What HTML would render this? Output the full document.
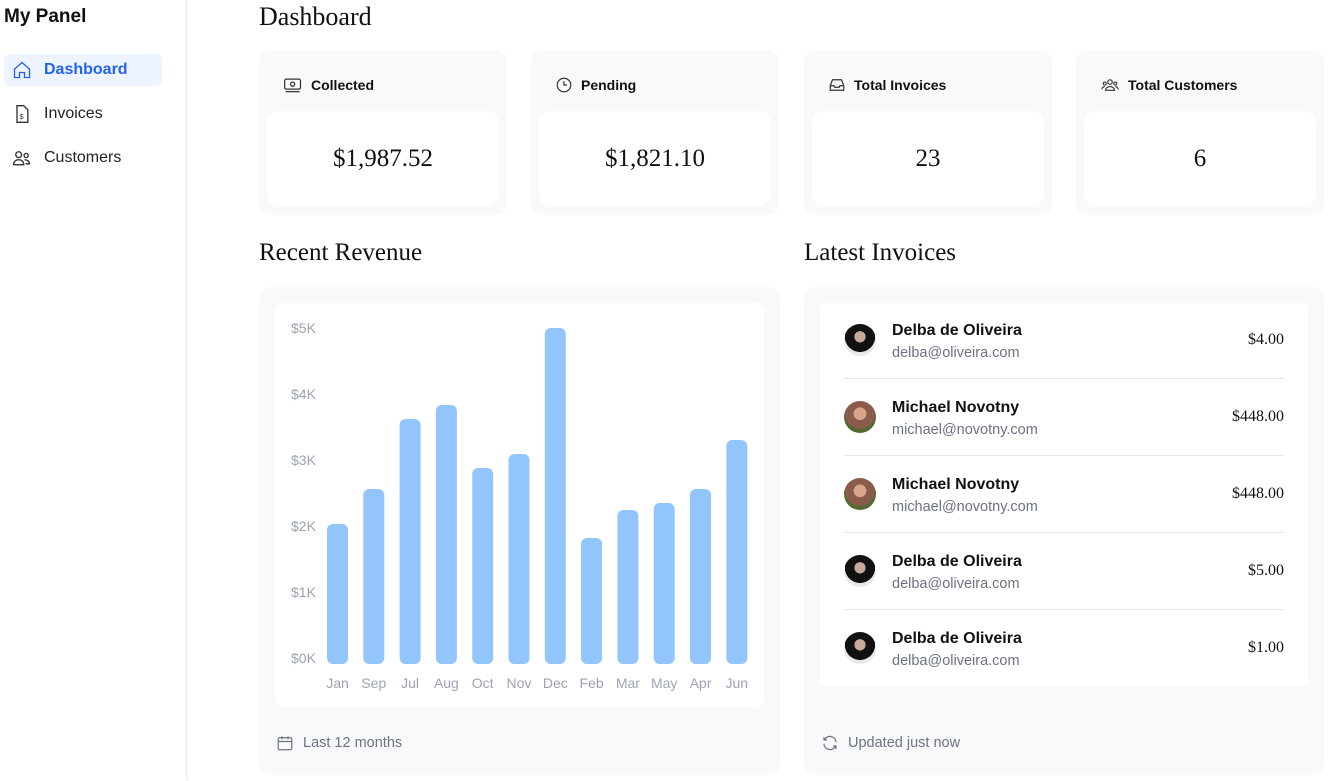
<!DOCTYPE html>
<html><head><meta charset="utf-8"><style>
*{box-sizing:border-box;margin:0;padding:0}
body{width:1330px;height:781px;overflow:hidden;background:#fff;font-family:"Liberation Sans",sans-serif;position:relative;color:#111}
.abs{position:absolute}
.side{left:0;top:0;width:187px;height:781px;border-right:1px solid #ececec;box-shadow:1px 0 3px rgba(0,0,0,.04)}
.nav{left:4px;width:158px;height:32px;border-radius:6px;display:flex;align-items:center;padding-left:8px;font-size:16px;color:#222}
.nav svg{margin-right:12px}
.card{background:#f8f9fb;border-radius:12px;width:248px;height:165px;top:50px}
.card .hd{position:absolute;left:24px;top:26px;font-size:14px;font-weight:bold;display:flex;align-items:center;color:#111}
.card .hd svg{margin-right:8px}
.card .in{position:absolute;left:8px;top:61px;width:232px;height:95px;background:#fff;border-radius:12px;display:flex;align-items:center;justify-content:center;font-family:"Liberation Serif",serif;font-size:25px}
.h2{font-family:"Liberation Serif",serif;font-size:25px;color:#111}
.row{position:absolute;left:24px;width:440px;height:77px}
.row .nm{position:absolute;left:48px;top:19px;font-weight:bold;font-size:16px}
.row .em{position:absolute;left:48px;top:42px;font-size:14.5px;color:#6b7280}
.row .amt{position:absolute;right:0;top:28px;font-family:"Liberation Serif",serif;font-size:16px}
.row .av{position:absolute;left:0;top:21px;width:32px;height:32px;border-radius:50%;overflow:hidden}
</style></head><body>
<div class="abs side">
 <div class="abs" style="left:4px;top:6px;font-size:19px;font-weight:bold">My Panel</div>
 <div class="abs nav" style="top:54px;background:#eef4ff;color:#2563eb;font-weight:bold"><svg width="20" height="20" viewBox="0 0 24 24" fill="none" stroke="#2563eb" stroke-width="1.6"><path d="M3 11l9-8 9 8v10h-6v-6h-6v6H3z"/></svg>Dashboard</div>
 <div class="abs nav" style="top:98px"><svg width="20" height="20" viewBox="0 0 24 24" fill="none" stroke="#333" stroke-width="1.6"><path d="M6 2h8l5 5v15H6z"/><text x="9" y="18" font-size="9" fill="#333" stroke="none">$</text></svg>Invoices</div>
 <div class="abs nav" style="top:142px"><svg width="20" height="20" viewBox="0 0 24 24" fill="none" stroke="#333" stroke-width="1.6"><circle cx="8" cy="8" r="3.5"/><circle cx="17" cy="9" r="2.5"/><path d="M2 20c0-4 3-6 6-6s6 2 6 6zM15 14c3 0 6 2 6 5h-5"/></svg>Customers</div>
</div>
<div class="abs h2" style="left:259px;top:2px;font-size:26px">Dashboard</div>

<div class="abs card" style="left:259px"><div class="hd"><svg width="20" height="18" viewBox="0 0 24 20" fill="none" stroke="#333" stroke-width="1.5"><rect x="2" y="3" width="19" height="12" rx="2"/><circle cx="11.5" cy="9" r="2.5"/><path d="M3 18h17"/></svg>Collected</div><div class="in">$1,987.52</div></div>
<div class="abs card" style="left:531px"><div class="hd"><svg width="18" height="18" viewBox="0 0 24 24" fill="none" stroke="#333" stroke-width="1.6"><circle cx="12" cy="12" r="9"/><path d="M12 7v5h4"/></svg>Pending</div><div class="in">$1,821.10</div></div>
<div class="abs card" style="left:804px"><div class="hd"><svg width="18" height="18" viewBox="0 0 24 24" fill="none" stroke="#333" stroke-width="1.6"><path d="M3 13l3-8h12l3 8v6H3zM3 13h5l1 2h6l1-2h5"/></svg>Total Invoices</div><div class="in">23</div></div>
<div class="abs card" style="left:1076px"><div class="hd"><svg width="20" height="18" viewBox="0 0 24 24" fill="none" stroke="#333" stroke-width="1.5"><circle cx="12" cy="8" r="3"/><circle cx="5" cy="10" r="2"/><circle cx="19" cy="10" r="2"/><path d="M6 19c0-3 3-5 6-5s6 2 6 5zM1 18c0-2 2-4 4-4M23 18c0-2-2-4-4-4"/></svg>Total Customers</div><div class="in">6</div></div>

<div class="abs h2" style="left:259px;top:239px">Recent Revenue</div>
<div class="abs h2" style="left:804px;top:239px">Latest Invoices</div>

<div class="abs" style="left:259px;top:287px;width:521px;height:488px;background:#f8f9fb;border-radius:12px"></div>
<div class="abs" style="left:275px;top:303px;width:489px;height:404px;background:#fff;border-radius:8px"></div>
<svg class="abs" style="left:0;top:0" width="1330" height="781" id="chart"></svg>
<div class="abs" style="left:276px;top:734px;font-size:14.5px;color:#6b7280;display:flex;align-items:center"><svg width="18" height="18" viewBox="0 0 24 24" fill="none" stroke="#6b7280" stroke-width="1.6" style="margin-right:9px"><rect x="3" y="5" width="18" height="16" rx="2"/><path d="M3 10h18M8 3v4M16 3v4"/></svg>Last 12 months</div>

<div class="abs" style="left:804px;top:287px;width:520px;height:488px;background:#f8f9fb;border-radius:12px"></div>
<div class="abs" style="left:820px;top:303px;width:488px;height:383px;background:#fff;border-radius:6px">
 <div class="row" style="top:0"><div class="av" style="background:radial-gradient(circle at 50% 40%,#c9a99a 0 22%,#111 23% 60%,#e8e8e8 61%)"></div><div class="nm">Delba de Oliveira</div><div class="em">delba@oliveira.com</div><div class="amt">$4.00</div></div>
 <div class="abs" style="left:24px;top:75px;width:440px;height:1px;background:#e5e7eb"></div>
 <div class="row" style="top:77px"><div class="av" style="background:radial-gradient(circle at 50% 40%,#d9a58a 0 25%,#8a5a4a 26% 60%,#4f6b2e 61%)"></div><div class="nm">Michael Novotny</div><div class="em">michael@novotny.com</div><div class="amt">$448.00</div></div>
 <div class="abs" style="left:24px;top:152px;width:440px;height:1px;background:#e5e7eb"></div>
 <div class="row" style="top:154px"><div class="av" style="background:radial-gradient(circle at 50% 40%,#d9a58a 0 25%,#8a5a4a 26% 60%,#4f6b2e 61%)"></div><div class="nm">Michael Novotny</div><div class="em">michael@novotny.com</div><div class="amt">$448.00</div></div>
 <div class="abs" style="left:24px;top:229px;width:440px;height:1px;background:#e5e7eb"></div>
 <div class="row" style="top:231px"><div class="av" style="background:radial-gradient(circle at 50% 40%,#c9a99a 0 22%,#111 23% 60%,#e8e8e8 61%)"></div><div class="nm">Delba de Oliveira</div><div class="em">delba@oliveira.com</div><div class="amt">$5.00</div></div>
 <div class="abs" style="left:24px;top:306px;width:440px;height:1px;background:#e5e7eb"></div>
 <div class="row" style="top:308px"><div class="av" style="background:radial-gradient(circle at 50% 40%,#c9a99a 0 22%,#111 23% 60%,#e8e8e8 61%)"></div><div class="nm">Delba de Oliveira</div><div class="em">delba@oliveira.com</div><div class="amt">$1.00</div></div>
</div>
<div class="abs" style="left:821px;top:734px;font-size:14.5px;color:#6b7280;display:flex;align-items:center"><svg width="18" height="18" viewBox="0 0 24 24" fill="none" stroke="#6b7280" stroke-width="1.6" style="margin-right:9px"><path d="M20 11a8 8 0 0 0-14-5l-2 2M4 4v4h4M4 13a8 8 0 0 0 14 5l2-2M20 20v-4h-4"/></svg>Updated just now</div>

<script>
const months=["Jan","Sep","Jul","Aug","Oct","Nov","Dec","Feb","Mar","May","Apr","Jun"];
const revenue=[2000,2500,3500,3700,2800,3000,4800,1800,2200,2300,2500,3200];
const yTicks=[0,1000,2000,3000,4000,5000];
const yTickLabels=["$0K","$1K","$2K","$3K","$4K","$5K"];
const svg=document.getElementById('chart');
const NS='http://www.w3.org/2000/svg';
const base=664, pxPer=0.07;
function y(v){return base-v*pxPer;}
function yLabel(v){return 658-v*0.066;}
function x(i){return 327+i*36.3;}
const bw=21;
yTicks.forEach((t,i)=>{
 const el=document.createElementNS(NS,'text');
 
 
 el.setAttribute('x',291);el.setAttribute('y',yLabel(t)+5);
 el.setAttribute('font-size','14');el.setAttribute('fill','#9ca3af');
 el.setAttribute('font-family','Liberation Sans, sans-serif');
 el.textContent=yTickLabels[i];svg.appendChild(el);
});
revenue.forEach((v,i)=>{
 const r=document.createElementNS(NS,'rect');
 
 
 r.setAttribute('x',x(i));r.setAttribute('y',y(v));
 r.setAttribute('width',bw);r.setAttribute('height',v*pxPer);
 r.setAttribute('rx',6);r.setAttribute('fill','#93c5fd');
 svg.appendChild(r);
 const t=document.createElementNS(NS,'text');
 
 
 t.setAttribute('x',x(i)+bw/2);t.setAttribute('y',688);
 t.setAttribute('text-anchor','middle');t.setAttribute('font-size','14');
 t.setAttribute('fill','#9ca3af');t.setAttribute('font-family','Liberation Sans, sans-serif');
 t.textContent=months[i];svg.appendChild(t);
});
</script>
</body></html>
